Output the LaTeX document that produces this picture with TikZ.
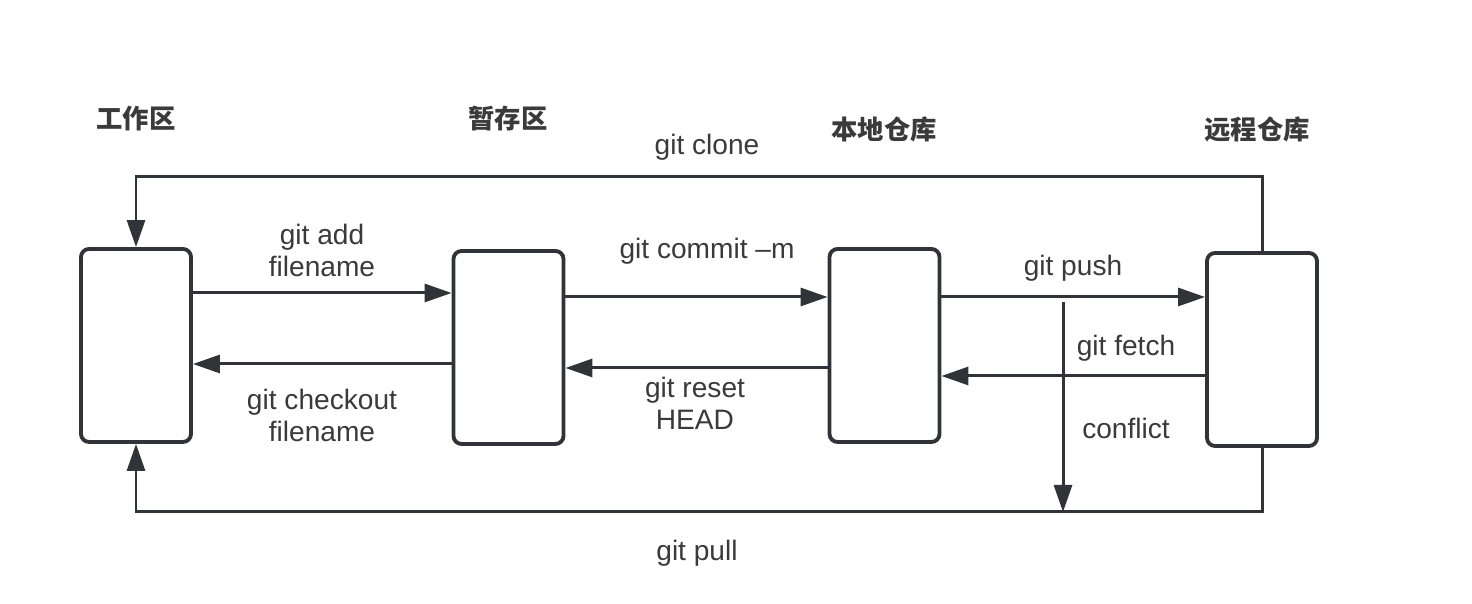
\documentclass[tikz,border=0pt]{standalone}
\usepackage{fontspec}
\setmainfont{Liberation Sans}
\newfontfamily\cjk{Noto Sans CJK SC}
\usetikzlibrary{positioning,arrows.meta}
\definecolor{linegray}{HTML}{303337}
\definecolor{textgray}{HTML}{3A3A3A}

\begin{document}
\begin{tikzpicture}[x=0.02cm,y=0.02cm,
  repo/.style={draw=linegray, line width=2.2pt, rounded corners=0.16cm,
    minimum width=2.2cm, minimum height=3.86cm, inner sep=0pt},
  flow/.style={draw=linegray, line width=1.7pt,
    -{Triangle[length=0.54cm,width=0.36cm]}},
  cmd/.style={text=textgray, font=\fontsize{16}{18.2}\selectfont, align=center},
  area/.style={text=textgray, font=\cjk\bfseries\fontsize{15}{17}\selectfont}]
\useasboundingbox (0,0) rectangle (1472,604);

% repositories
\node[repo] (work) at (136,258.5) {};
\node[repo] (stage) at (508.5,256.5) {};
\node[repo] (local) at (884.5,258.5) {};
\node[repo] (remote) at (1262,254.5) {};

% area titles
\node[area] (workT) at (136,485) {工作区};
\node[area] (stageT) at (508,485) {暂存区};
\node[area] (localT) at (884,475) {本地仓库};
\node[area] (remoteT) at (1257,475) {远程仓库};

% work <-> stage
\draw[flow] (work.east |- 0,311) -- (stage.west |- 0,311);
\node[cmd] (add) at (322,354) {git add\\filename};
\draw[flow] (stage.west |- 0,240) -- (work.east |- 0,240);
\node[cmd] (checkout) at (322,189) {git checkout\\filename};

% stage <-> local
\draw[flow] (stage.east |- 0,307) -- (local.west |- 0,307);
\node[cmd] (commit) at (707,353) {git commit --m};
\draw[flow] (local.west |- 0,236) -- (stage.east |- 0,236);
\node[cmd] (reset) at (695,201) {git reset\\HEAD};

% local <-> remote
\draw[flow] (local.east |- 0,307) -- (remote.west |- 0,307);
\node[cmd] (push) at (1073,336) {git push};
\draw[flow] (remote.west |- 0,228) -- (local.east |- 0,228);
\node[cmd] (fetch) at (1126,256) {git fetch};

% conflict
\coordinate (cfTop) at (1063,302);
\coordinate (cfBot) at (1063,92);
\draw[flow] (cfTop) -- (cfBot);
\node[cmd] (conflict) at (1126,176) {conflict};

% clone and pull
\coordinate (cloneL) at (136,427);
\draw[flow] (remote.north) |- (cloneL) -- (work.north);
\node[cmd] (clone) at (707,457) {git clone};
\coordinate (pullL) at (136,92);
\draw[flow] (remote.south) |- (pullL) -- (work.south);
\node[cmd] (pull) at (697,51) {git pull};

\end{tikzpicture}
\end{document}
